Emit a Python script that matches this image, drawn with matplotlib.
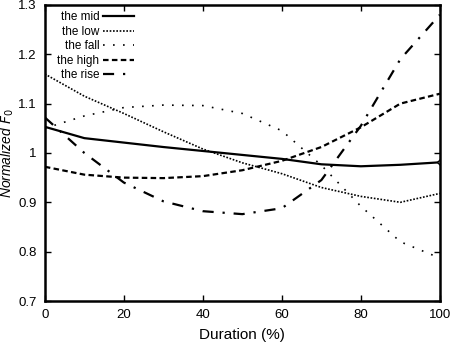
import matplotlib
matplotlib.use("Agg")
import matplotlib.pyplot as plt
from matplotlib.ticker import FuncFormatter

plt.rcParams['font.family'] = ['Liberation Sans', 'DejaVu Sans']

duration = [0, 10, 20, 30, 40, 50, 60, 70, 80, 90, 100]
mid  = [1.053, 1.030, 1.021, 1.012, 1.004, 0.996, 0.988, 0.977, 0.973, 0.976, 0.981]
low  = [1.160, 1.115, 1.080, 1.043, 1.008, 0.980, 0.958, 0.930, 0.912, 0.900, 0.918]
fall = [1.050, 1.075, 1.092, 1.097, 1.096, 1.080, 1.045, 0.975, 0.892, 0.820, 0.787]
high = [0.972, 0.956, 0.950, 0.949, 0.953, 0.965, 0.984, 1.012, 1.052, 1.100, 1.120]
rise = [1.072, 1.000, 0.940, 0.902, 0.882, 0.876, 0.888, 0.945, 1.055, 1.190, 1.280]

labels = ["the mid", "the low", "the fall", "the high", "the rise"]
xticks = [0, 20, 40, 60, 80, 100]
yticks = [0.7, 0.8, 0.9, 1.0, 1.1, 1.2, 1.3]

fig = plt.figure(figsize=(4.53, 3.5), dpi=100)
ax = fig.add_axes([0.099, 0.14, 0.872, 0.846])

ax.plot(duration, mid, color='black', lw=1.6, ls='-', label=labels[0],
        marker='D', markevery=[len(duration) - 1], ms=3, mfc='white', mec='black')
ax.plot(duration, low, color='black', lw=1.2, ls=(0, (1, 1)), label=labels[1])
ax.plot(duration, fall, color='black', lw=1.2, ls=(0, (1, 5)), label=labels[2])
ax.plot(duration, high, color='black', lw=1.6, ls=(0, (2.5, 1.5)), label=labels[3])
ax.plot(duration, rise, color='black', lw=1.6, ls=(0, (5, 4, 1, 4)), label=labels[4])

ax.set_xlim(0, 100)
ax.set_ylim(0.7, 1.3)
ax.set_xticks(xticks)
ax.set_yticks(yticks)
ax.yaxis.set_major_formatter(FuncFormatter(lambda v, p: f"{v:g}"))
ax.tick_params(direction='in', top=True, right=True, length=4, width=1,
               labelsize=9.5, pad=6)
for s in ax.spines.values():
    s.set_linewidth(1.8)

ax.set_xlabel("Duration (%)", fontsize=11, labelpad=5)
ax.set_ylabel("Normalized $F_0$", fontsize=10, style='italic', labelpad=1)

leg = ax.legend(loc='upper left', frameon=False, markerfirst=False,
                fontsize=8.5, handlelength=2.6, handletextpad=0.3,
                labelspacing=0.22, borderaxespad=0.0,
                bbox_to_anchor=(0.02, 0.995))
for t in leg.get_texts():
    t.set_ha('right')
leg.legend_handles[0].set_marker('None')

fig.savefig("out.png", dpi=100)
